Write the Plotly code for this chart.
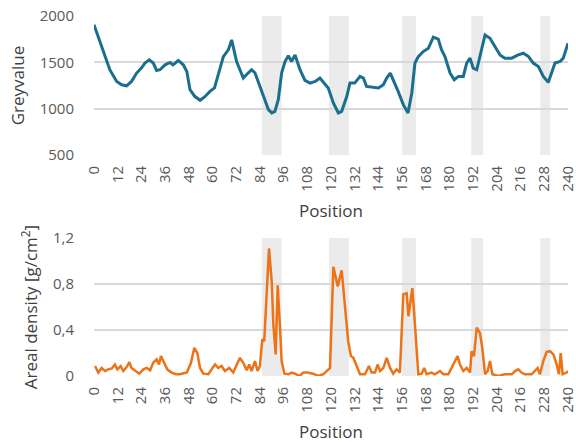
import plotly.graph_objects as go
from plotly.subplots import make_subplots

# ---- Data ----
grey_pos = [0, 3, 5.6, 8, 11.5, 14, 16.5, 19, 21.6, 24, 25.8, 28, 30, 31.7, 33.4, 36, 38.5, 40,
            42.7, 45.2, 47, 48.6, 51, 53.7, 56, 58.7, 61, 63, 65.5, 68, 69.7, 72.2, 75.6, 78,
            79.8, 81.5, 83, 85.7, 88.3, 90, 91.6, 93.3, 95, 96.7, 98.4, 100, 101.8, 104.3,
            106.8, 109.4, 112, 114.4, 117, 118.6, 121.2, 123.7, 125.4, 128, 129.6, 132, 134.7,
            136.4, 138, 141.4, 144, 146.5, 148.2, 150, 151.5, 154, 156.6, 159, 160.9, 162.5,
            164.2, 166.7, 169.3, 171.8, 174.3, 176, 177.7, 180.3, 182.4, 184.5, 187, 188.7,
            190.4, 192, 193.8, 196.3, 198, 200.5, 203, 205.6, 208, 211.5, 214.8, 217.4, 220,
            222.4, 225, 227.5, 230, 231.7, 233.4, 236, 237.6, 240]
grey_val = [1905, 1724, 1562, 1420, 1294, 1258, 1247, 1294, 1384, 1438, 1492, 1527, 1492, 1412,
            1420, 1473, 1498, 1473, 1520, 1473, 1401, 1205, 1133, 1090, 1126, 1186, 1223, 1384,
            1562, 1634, 1742, 1509, 1330, 1384, 1420, 1387, 1294, 1133, 990, 954, 971, 1097,
            1384, 1509, 1570, 1509, 1580, 1420, 1305, 1276, 1294, 1330, 1258, 1223, 1062, 954,
            971, 1133, 1276, 1276, 1348, 1330, 1240, 1233, 1223, 1258, 1330, 1384, 1312, 1186,
            1043, 954, 1169, 1492, 1562, 1616, 1652, 1771, 1750, 1634, 1562, 1384, 1312, 1348,
            1348, 1492, 1545, 1438, 1420, 1634, 1796, 1760, 1670, 1580, 1545, 1545, 1580, 1598,
            1562, 1492, 1455, 1348, 1283, 1401, 1492, 1509, 1545, 1706]

dens_pos = [0.5, 2.2, 3.9, 5.6, 7.2, 9, 10.6, 11.8, 13.5, 14.8, 16.5, 17.9, 19, 20.8, 22.9, 25,
            26.7, 28.4, 30, 31.7, 32.9, 33.9, 35.4, 37.1, 39.3, 41.5, 43.5, 47, 49.1, 50.8, 52.3,
            53.7, 55.3, 57.9, 60, 61.3, 62.9, 64.6, 66.3, 68.5, 70.5, 72.2, 73.9, 75.6, 77.3,
            78.6, 79.8, 81.5, 82.8, 84, 85.2, 86.2, 87.4, 88.6, 90, 90.8, 92, 93, 94.2, 95, 96.4,
            98.4, 100, 101.8, 104, 106, 108, 111, 113.6, 116.1, 117.8, 119.5, 121.2, 123.4, 125.4,
            127, 128.7, 130.1, 131.3, 133, 134.7, 137.2, 139.2, 140.6, 142.3, 143.6, 144.8, 146.5,
            148.2, 149.9, 151.5, 153.2, 154.9, 156.6, 158.3, 159.2, 161.2, 162.5, 164.2, 165.9,
            167.2, 168.4, 170.9, 172.6, 175.2, 176.9, 179.4, 181.9, 184.1, 185.3, 187, 188.7,
            190.4, 191.2, 192.4, 193.8, 195.4, 196.6, 198, 199.3, 200.5, 201.7, 204.7, 208, 211.5,
            213.2, 214.8, 216.5, 218.2, 221.6, 223.3, 224.6, 225.8, 227.5, 229.2, 230.9, 232.6,
            234.3, 235.4, 236.3, 237.3, 239.3, 240]
dens_val = [0.087, 0.03, 0.07, 0.043, 0.058, 0.066, 0.1, 0.058, 0.087, 0.043, 0.078, 0.12, 0.07,
            0.043, 0.02, 0.058, 0.07, 0.05, 0.115, 0.145, 0.1, 0.173, 0.115, 0.058, 0.03, 0.015,
            0.015, 0.03, 0.115, 0.245, 0.2, 0.07, 0.02, 0.015, 0.07, 0.1, 0.07, 0.087, 0.043,
            0.07, 0.03, 0.1, 0.158, 0.115, 0.05, 0.1, 0.043, 0.13, 0.043, 0.087, 0.318, 0.303,
            0.68, 1.11, 0.82, 0.45, 0.188, 0.79, 0.42, 0.13, 0.02, 0.015, 0.03, 0.02, 0.0, 0.03,
            0.03, 0.02, 0.0, 0.015, 0.043, 0.07, 0.95, 0.78, 0.92, 0.62, 0.303, 0.173, 0.158,
            0.087, 0.015, 0.015, 0.087, 0.03, 0.03, 0.1, 0.043, 0.07, 0.158, 0.07, 0.02, 0.058,
            0.03, 0.71, 0.72, 0.52, 0.765, 0.45, 0.015, 0.02, 0.07, 0.015, 0.03, 0.015, 0.043,
            0.015, 0.015, 0.1, 0.173, 0.1, 0.043, 0.07, 0.03, 0.216, 0.173, 0.42, 0.375, 0.245,
            0.015, 0.043, 0.13, 0.015, 0.0, 0.015, 0.015, 0.043, 0.058, 0.03, 0.015, 0.015,
            0.043, 0.07, 0.015, 0.13, 0.21, 0.216, 0.188, 0.1, 0.015, 0.2, 0.015, 0.03, 0.043]

bands = [(85, 95), (119, 129), (156, 163), (191, 197), (226, 231)]

x_ticks = list(range(0, 241, 12))
grey_ticks = [500, 1000, 1500, 2000]
dens_ticks = [0, 0.4, 0.8, 1.2]
dens_tick_labels = ["0", "0,4", "0,8", "1,2"]

FONT = "Open Sans"
TICK_COL = "#595959"
GRID_COL = "#d9d9d9"

fig = make_subplots(rows=2, cols=1, shared_xaxes=False)

fig.add_trace(go.Scatter(x=grey_pos, y=grey_val, mode="lines",
                         line=dict(color="#1b6f8e", width=3), showlegend=False), row=1, col=1)
fig.add_trace(go.Scatter(x=dens_pos, y=dens_val, mode="lines",
                         line=dict(color="#ec7317", width=2.5), showlegend=False), row=2, col=1)

for r in (1, 2):
    for a, b in bands:
        fig.add_vrect(x0=a, x1=b, fillcolor="#ebebeb", line_width=0, layer="below", row=r, col=1)

xaxis_common = dict(range=[0, 240], tickmode="array", tickvals=x_ticks, tickangle=-90,
                    showgrid=False, zeroline=False, showline=False, automargin=False,
                    ticks="outside", ticklen=4, tickcolor="rgba(0,0,0,0)",
                    ticklabeloverflow="allow",
                    tickfont=dict(family=FONT, size=15, color=TICK_COL),
                    title=dict(text="Position", font=dict(family=FONT, size=17, color="#404040"),
                               standoff=14))

fig.update_xaxes(**xaxis_common, row=1, col=1)
fig.update_xaxes(**xaxis_common, row=2, col=1)

fig.update_yaxes(range=[500, 2000], tickmode="array", tickvals=grey_ticks,
                 showgrid=True, gridcolor=GRID_COL, gridwidth=1.5, zeroline=False, showline=False,
                 automargin=False,
                 ticks="outside", ticklen=16, tickcolor="rgba(0,0,0,0)",
                 tickfont=dict(family=FONT, size=15, color=TICK_COL),
                 title=dict(text="Greyvalue", font=dict(family=FONT, size=17, color="#404040"),
                            standoff=10),
                 row=1, col=1)
fig.update_yaxes(range=[0, 1.2], tickmode="array", tickvals=dens_ticks, ticktext=dens_tick_labels,
                 showgrid=True, gridcolor=GRID_COL, gridwidth=1.5, zeroline=False, showline=False,
                 automargin=False,
                 ticks="outside", ticklen=16, tickcolor="rgba(0,0,0,0)",
                 tickfont=dict(family=FONT, size=15, color=TICK_COL),
                 title=dict(text="Areal density [g/cm<sup>2</sup>]",
                            font=dict(family=FONT, size=17, color="#404040"), standoff=10),
                 row=2, col=1)

fig.update_layout(
    width=576, height=443,
    margin=dict(l=94, r=8, t=16, b=67),
    paper_bgcolor="white", plot_bgcolor="white",
    yaxis=dict(domain=[0.614, 1.0]),
    yaxis2=dict(domain=[0.0, 0.383]),
    font=dict(family=FONT),
)

fig.write_html("out.html", config={"displayModeBar": False},
               post_script="document.body.style.margin='0';document.body.style.padding='0';")
